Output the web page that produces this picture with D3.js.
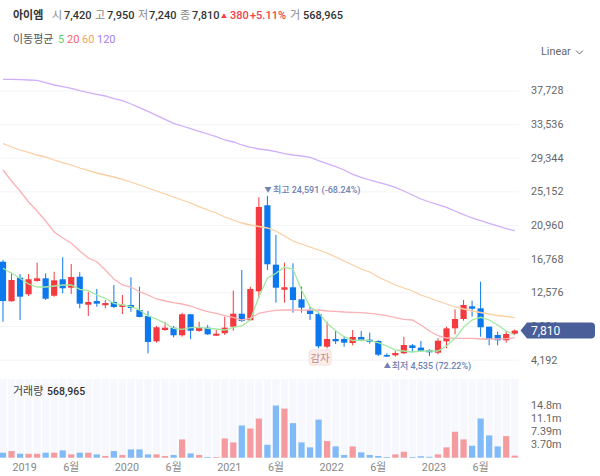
<!DOCTYPE html>
<html>
<head>
<meta charset="utf-8">
<title>아이엠</title>
<style>
  html, body { margin: 0; padding: 0; background: #fff; }
  svg { display: block; font-family: Roboto, 'Noto Sans CJK KR', sans-serif; }
  .axis path { display: none; }
  .axis text { fill: #666; font-size: 10.8px; font-family: Roboto, 'Noto Sans CJK KR', sans-serif; }
  .xaxis text { fill: #888; }
  .axis line { stroke: #f3f4f7; }
  .note { fill: #6e80b4; font-size: 9px; font-weight: 500; }
</style>
</head>
<body>
<svg id="chart" width="600" height="476"></svg>
<script src="https://d3js.org/d3.v7.min.js"></script>
<script>
const opens = [16390,11460,14400,12330,13990,14320,12150,14200,13150,14520,
  11030,11490,10960,11370,10750,11000,10370,9620,6470,7880,
  8170,7220,9840,7760,8170,7170,7470,8290,9910,9090,
  12700,23420,16020,12900,13200,11700,10370,9870,5800,6760,
  6760,6260,7010,6670,6510,4770,4730,4980,5970,5680,
  5390,5050,6470,8090,9250,10830,10580,8290,7260,6600,7420];
const closes = [11490,14110,12030,14200,14320,11780,14070,13080,14480,11160,
  11370,11160,11240,10750,11030,10620,9500,6390,8220,8170,
  7220,9840,7790,8170,7340,7420,8170,9910,9000,12990,
  23210,16070,13150,13200,11620,10660,9870,5850,6760,6470,
  6300,7010,6550,6390,4800,4570,5010,6010,5640,5260,
  5100,6550,8090,9250,11000,10530,8220,6720,6600,7380,7810];
const highs = [16600,15020,14860,14860,16270,14950,15140,16940,16100,15070,
  12650,12990,11620,13490,12240,14450,13280,10250,8380,8910,
  8380,10040,9870,8910,8500,7880,9540,12780,15360,13280,
  24420,24591,19720,16270,16190,13280,10780,10160,8910,7880,
  7130,7880,7760,7540,6600,4980,5260,7010,6140,6510,
  5480,6850,8290,10460,11620,11530,13900,8290,7670,7760,7950];
const lows = [8910,11410,9130,12120,13900,11620,12030,12450,12370,10580,
  9620,10780,10580,10620,9870,10160,9460,4980,6300,7790,
  6970,7050,6720,7670,7260,7130,7260,7790,8880,9040,
  11830,15360,11280,11280,10040,10040,9130,5600,5600,6140,
  5800,5970,6470,6170,4640,4535,4550,4890,5100,5140,
  4640,4850,5600,7340,9040,9550,7050,5970,5970,6300,7240];
// millions of shares
const volumes = [1.4,1.87,1.12,1.1,1.1,1.4,1.4,2.05,0.93,1.4,
  1.4,0.93,0.47,1.87,0.75,2.33,2.33,0.93,0.93,0.47,
  0.75,5.13,1.2,0.75,0.2,0.2,5.4,4.3,9.05,8.2,
  11.0,3.64,14.65,13.8,9.7,4.3,2.9,10.7,4.67,3.17,
  0.75,3.17,1.5,0.75,0.47,0.2,0.93,1.68,0.2,0.4,
  0.25,0.93,2.9,7.28,5.13,3.36,11.0,6.25,3.17,6.07,0.57];

const ma5 = [15568,14945,14321,13612,13238,13238,13362,13487,13487,12951,
  12777,12241,11830,11207,10995,10783,10372,9624,9250,8715,
  8092,7967,8167,8217,8092,8005,7880,8217,8378,9126,
  12029,14321,14945,15693,15480,12864,10783,10036,8715,7793,
  7045,6547,6634,6547,6298,5887,5388,5263,5139,5263,
  5263,5263,5887,6846,8217,9126,9462,9126,8503,7755,7257];
const ma20 = [27816,26445,25199,23829,22707,21461,20091,19343,18720,17723,
  16851,16390,15356,14235,13487,13238,12652,12241,11743,11493,
  11282,11120,10870,10470,10160,9961,9662,9462,9126,9338,
  9961,10160,10334,10372,10372,10334,10372,10372,10247,10210,
  10123,10086,10036,9961,9837,9662,9413,9214,9126,8503,
  7755,7170,6883,6846,6846,6846,6759,6759,6759,6796,6921];
const ma60 = [31118,30682,30308,29997,29685,29436,29062,28750,28439,28065,
  27754,27442,27193,26944,26657,26321,25947,25573,25199,24826,
  24452,24078,23704,23243,22832,22458,21960,21586,21212,20963,
  20775,20589,20215,19592,18969,18596,18222,17848,17474,16976,
  16477,15979,15481,15107,14484,13985,13487,13113,12739,12241,
  11867,11493,11120,10746,10497,10248,10060,9874,9685,9562,9413];
const ma120 = [39117,39117,39067,39030,38993,38694,38407,38195,37996,37697,
  37447,37248,37036,36700,36451,36040,35579,35130,34632,34134,
  33635,33298,32962,32638,32302,31965,31554,31305,30931,30645,
  30433,30308,30096,29847,29685,29560,29398,28975,28601,28227,
  27816,27280,26907,26570,26284,25985,25661,25199,24701,24203,
  23829,23493,23169,22708,22247,21836,21499,21175,20840,20503,20253];

const priceTicks = [4192,8384,12576,16768,20960,25152,29344,33536,37728];
const volumeTicks = [3.70,7.39,11.1,14.8];
const volumeTickLabels = ['3.70m','7.39m','11.1m','14.8m'];
const yearTicks = [[3,'2019'],[15,'2020'],[27,'2021'],[39,'2022'],[51,'2023']];
const juneTicks = [8,20,32,44,56];

const maSeries = [[ma120,'#cfaefc'],[ma60,'#fbcfa2'],[ma20,'#fbb1b5'],[ma5,'#a2e8a0']];
const red = '#f33a40', blue = '#0c78ee';

const svg = d3.select('#chart');
const months = d3.range(opens.length);

const x = d3.scaleBand().domain(months).range([-1.27, 519]);
const cx = i => x(i) + x.bandwidth() / 2;
const y = d3.scaleLinear().domain([4192, 37728]).range([359.6, 90.45]);
const yVol = d3.scaleLinear().domain([0, 14.8]).range([457.7, 405]);

// price grid and labels
svg.append('g').attr('class', 'axis').attr('transform', 'translate(519,0)')
  .call(d3.axisRight(y).tickValues(priceTicks).tickSize(-519).tickPadding(12).tickFormat(d3.format(',')));

// volume panel
svg.append('g').selectAll('rect').data(months).join('rect')
  .attr('x', i => cx(i) - 3.7).attr('width', 7.4)
  .attr('y', 379).attr('height', 79)
  .attr('fill', '#f6f8fd');
svg.append('g').selectAll('rect').data(months).join('rect')
  .attr('x', i => cx(i) - 3.1).attr('width', 6.2)
  .attr('y', i => yVol(volumes[i])).attr('height', i => yVol(0) - yVol(volumes[i]))
  .attr('fill', i => closes[i] >= opens[i] ? '#f59b9f' : '#80baf8');

svg.append('g').attr('class', 'axis').attr('transform', 'translate(519,0)')
  .call(d3.axisRight(yVol).tickValues(volumeTicks).tickSize(0).tickPadding(12)
    .tickFormat((d, i) => volumeTickLabels[i]));

// month labels
const xAxis = svg.append('g').attr('class', 'axis xaxis').attr('transform', 'translate(0,458)');
xAxis.append('g')
  .call(d3.axisBottom(x).tickValues(juneTicks).tickSize(0).tickPadding(5).tickFormat(() => '6월'));
xAxis.append('g').attr('transform', 'translate(-4,0)')
  .call(d3.axisBottom(x).tickValues(yearTicks.map(d => d[0])).tickSize(0).tickPadding(5)
    .tickFormat((d, i) => yearTicks[i][1]));

// candles
const candle = svg.append('g').selectAll('g').data(months).join('g')
  .attr('fill', i => closes[i] >= opens[i] ? red : blue)
  .attr('stroke', i => closes[i] >= opens[i] ? red : blue);
candle.append('line')
  .attr('x1', cx).attr('x2', cx)
  .attr('y1', i => y(highs[i])).attr('y2', i => y(lows[i]))
  .attr('stroke-width', 1);
candle.append('rect')
  .attr('x', i => cx(i) - 3.1).attr('width', 6.2)
  .attr('y', i => y(Math.max(opens[i], closes[i])))
  .attr('height', i => Math.abs(y(opens[i]) - y(closes[i])))
  .attr('stroke', 'none');

// moving averages
const line = d3.line().x((d, i) => cx(i)).y(d => y(d));
svg.append('g').selectAll('path').data(maSeries).join('path')
  .attr('d', d => line(d[0]))
  .attr('fill', 'none')
  .attr('stroke', d => d[1])
  .attr('stroke-width', 1.3);

// high / low notes
const hi = months.reduce((a, b) => highs[b] > highs[a] ? b : a, 0);
const lo = months.reduce((a, b) => lows[b] < lows[a] ? b : a, 0);
svg.append('text').attr('class', 'note').attr('x', cx(hi) - 3).attr('y', y(highs[hi]) - 3.5)
  .style('font-size', '7px').text('▼');
svg.append('text').attr('class', 'note').attr('x', cx(hi) + 5.5).attr('y', y(highs[hi]) - 3)
  .text('최고 24,591 (-68.24%)');
svg.append('text').attr('class', 'note').attr('x', cx(lo) - 3).attr('y', y(lows[lo]) + 11.5)
  .style('font-size', '7px').text('▲');
svg.append('text').attr('class', 'note').attr('x', cx(lo) + 5).attr('y', y(lows[lo]) + 12.5)
  .text('최저 4,535 (72.22%)');

// 감자 badge under the capital reduction month
svg.append('rect').attr('x', cx(38) - 18).attr('y', 350).attr('width', 22).attr('height', 15).attr('rx', 3)
  .attr('fill', '#fbeeec').attr('stroke', '#f6dcd8');
svg.append('text').attr('x', cx(38) - 7).attr('y', 362).attr('text-anchor', 'middle')
  .attr('fill', '#c58a84').style('font-size', '10.5px').text('감자');

// last price tag
const tagY = y(closes[closes.length - 1]);
svg.append('path')
  .attr('d', `M520.5,${tagY} L527,${tagY - 8} H591 Q595,${tagY - 8} 595,${tagY - 4} V${tagY + 4} Q595,${tagY + 8} 591,${tagY + 8} H527 Z`)
  .attr('fill', '#4a5f9a');
svg.append('text').attr('x', 531).attr('y', tagY + 4.3).attr('fill', '#fff')
  .style('font-size', '12px').text(d3.format(',')(closes[closes.length - 1]));

// header
const headerItems = [
  [13, '아이엠', '#333', 700], [52, '시', '#888', 400], [64, '7,420', '#333', 500],
  [95, '고', '#888', 400], [107, '7,950', '#333', 500], [138, '저', '#888', 400],
  [149, '7,240', '#333', 500], [180, '종', '#888', 400], [192, '7,810', '#333', 500],
  [230, '380', '#f0424a', 500], [250, '+5.11%', '#f0424a', 500],
  [290, '거', '#888', 400], [303, '568,965', '#333', 500]
];
svg.append('g').selectAll('text').data(headerItems).join('text')
  .attr('x', d => d[0]).attr('y', 19)
  .attr('fill', d => d[2]).attr('font-weight', d => d[3])
  .style('font-size', '11px').text(d => d[1]);
svg.append('text').attr('x', 221).attr('y', 18).attr('fill', '#f0424a').style('font-size', '6px').text('▲');

const maLegend = [[13, '이동평균', '#555'], [58, '5', '#5fd35f'], [67, '20', '#f5636a'], [82, '60', '#f9a25f'], [97, '120', '#a67cf5']];
svg.append('g').selectAll('text').data(maLegend).join('text')
  .attr('x', d => d[0]).attr('y', 43)
  .attr('fill', d => d[2]).style('font-size', '11px').text(d => d[1]);

svg.append('text').attr('x', 541).attr('y', 55).attr('fill', '#666').style('font-size', '10.8px').text('Linear');
svg.append('path').attr('d', 'M576,50.5 L579.5,54 L583,50.5').attr('fill', 'none').attr('stroke', '#666');

svg.append('text').attr('x', 13).attr('y', 395).attr('fill', '#444').style('font-size', '11px').text('거래량');
svg.append('text').attr('x', 47).attr('y', 395).attr('fill', '#333').attr('font-weight', 500).style('font-size', '10.5px').text('568,965');
</script>
</body>
</html>
